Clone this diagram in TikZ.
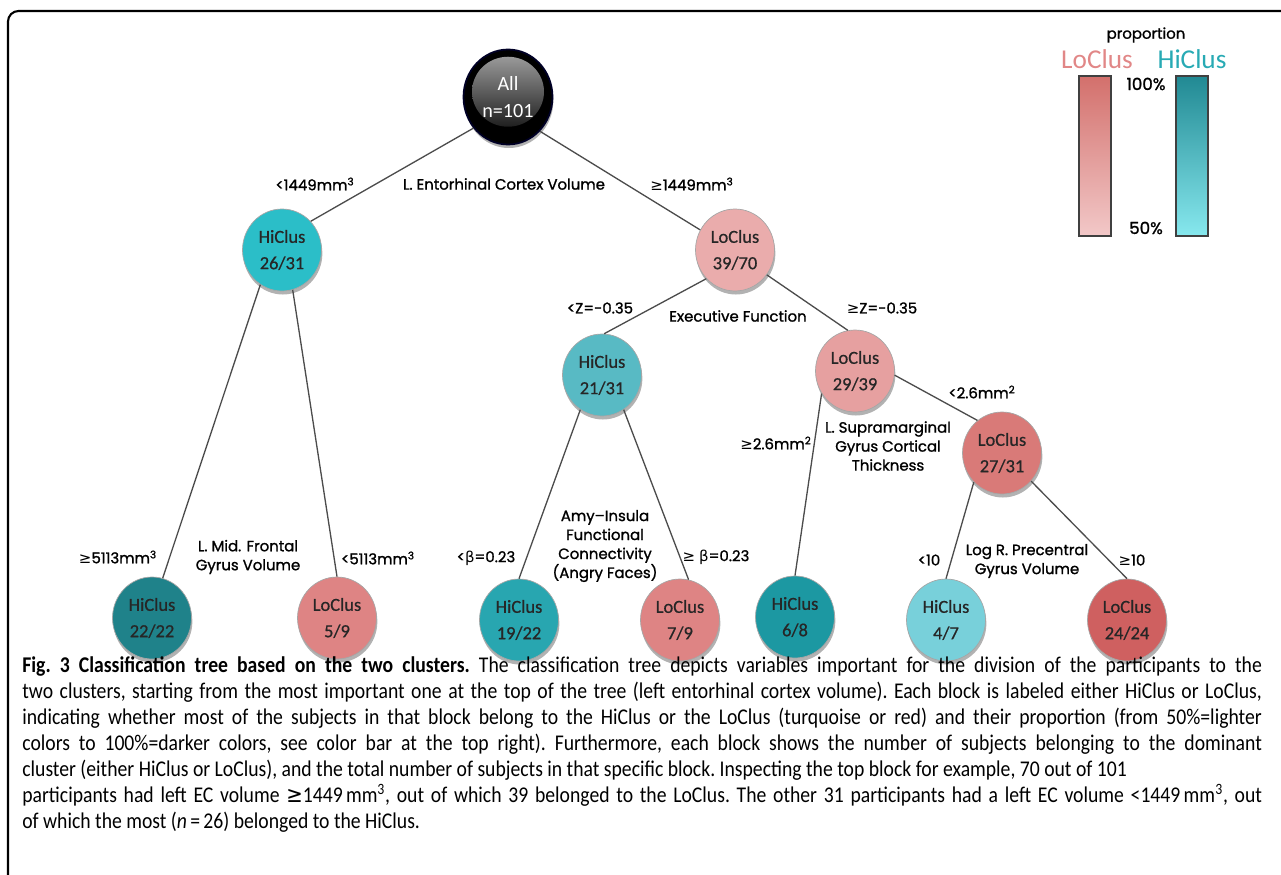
\documentclass[tikz,border=0pt]{standalone}
\usepackage{fontspec}
\usepackage{graphicx}
\setmainfont{Carlito}
\newfontfamily\gothic[FakeBold=1.2]{Poppins}
\newfontfamily\nodefont[FakeBold=0.6]{Carlito}
\newfontfamily\symf{DejaVu Sans}
\usetikzlibrary{shapes.geometric,shadows}

\definecolor{hiA}{RGB}{43,190,200}
\definecolor{loA}{RGB}{234,172,172}
\definecolor{hiB}{RGB}{88,186,196}
\definecolor{loB}{RGB}{230,160,160}
\definecolor{loC}{RGB}{217,122,120}
\definecolor{hiC}{RGB}{31,130,138}
\definecolor{loD}{RGB}{222,132,132}
\definecolor{hiD}{RGB}{40,166,176}
\definecolor{loE}{RGB}{222,132,132}
\definecolor{hiE}{RGB}{28,152,162}
\definecolor{hiF}{RGB}{120,208,218}
\definecolor{loF}{RGB}{207,96,96}
\definecolor{loLeg}{RGB}{225,135,135}
\definecolor{hiLeg}{RGB}{40,170,180}
\definecolor{barLoTop}{RGB}{211,112,108}
\definecolor{barLoBot}{RGB}{242,200,200}
\definecolor{barHiTop}{RGB}{33,137,147}
\definecolor{barHiBot}{RGB}{135,232,238}

\newcommand\gesign{{\symf ≥}}
\newcommand\betasign{{\symf β}}

\tikzset{
  clus/.style={ellipse, draw=black!35, line width=0.4pt, inner sep=0pt,
    minimum width=1.58cm, minimum height=1.64cm, align=center,
    font=\nodefont\fontsize{10.5}{15}\selectfont, text=black!85,
    drop shadow={shadow xshift=0.5pt, shadow yshift=-2pt, opacity=0.3, fill=black}},
  root/.style={ellipse, fill=black, draw=black!85!blue, line width=1pt, inner sep=0pt,
    minimum width=1.78cm, minimum height=1.9cm, align=center, text=white,
    font=\fontsize{11.5}{15.5}\selectfont,
    path picture={\shade[top color=gray!70, bottom color=black]
      ([yshift=3pt]path picture bounding box.center) ellipse [x radius=0.72cm, y radius=0.7cm];},
    drop shadow={shadow xshift=0.5pt, shadow yshift=-2pt, opacity=0.3, fill=black}},
  rule/.style={font=\gothic\fontsize{8.5}{10.8}\selectfont, align=center, inner sep=1pt},
  branch/.style={draw=black!70, line width=0.75pt},
}

\begin{document}
\begin{tikzpicture}[x=0.02cm, y=-0.02cm]
\useasboundingbox (0,0) rectangle (1281,875);
% frame
\draw[line width=1.2pt, rounded corners=6pt] (8,875) -- (8,11) -- (1281,11);

% tree
\node[root] (all) at (508,97) {All\\n=101};
\node[clus, fill=hiA] (hA) at (282,250) {HiClus\\26/31};
\node[clus, fill=loA] (lA) at (735,250) {LoClus\\39/70};
\node[clus, fill=hiB] (hB) at (602,375) {HiClus\\21/31};
\node[clus, fill=loB] (lB) at (855,371) {LoClus\\29/39};
\node[clus, fill=loC] (lC) at (1002,453) {LoClus\\27/31};
\node[clus, fill=hiC] (hC) at (152,618) {HiClus\\22/22};
\node[clus, fill=loD] (lD) at (337,618) {LoClus\\5/9};
\node[clus, fill=hiD] (hD) at (519,620) {HiClus\\19/22};
\node[clus, fill=loE] (lE) at (680,620) {LoClus\\7/9};
\node[clus, fill=hiE] (hE) at (795,617) {HiClus\\6/8};
\node[clus, fill=hiF] (hF) at (946,620) {HiClus\\4/7};
\node[clus, fill=loF] (lF) at (1127,620) {LoClus\\24/24};

\draw[branch] (all.222) -- (hA.45);
\draw[branch] (all.-47) -- (lA.150);
\draw[branch] (hA.238) -- (hC.75);
\draw[branch] (hA.285) -- (lD.90);
\draw[branch] (lA.225) -- (hB.87);
\draw[branch] (lA.-38) -- (lB.100);
\draw[branch] (hB.238) -- (hD.90);
\draw[branch] (hB.-58) -- (lE.78);
\draw[branch] (lB.214) -- (hE.90);
\draw[branch] (lB.-6) -- (lC.127);
\draw[branch] (lC.226) -- (hF.90);
\draw[branch] (lC.-44) -- (lF.90);

% split rules
\node[rule] (ecLo) at (315,184) {<1449mm\textsuperscript{3}};
\node[rule] (ec) at (504,184) {L. Entorhinal Cortex Volume};
\node[rule] (ecHi) at (692,184) {\gesign1449mm\textsuperscript{3}};
\node[rule] (efLo) at (600,308) {<Z=-0.35};
\node[rule] (ef) at (738,316) {Executive Function};
\node[rule] (efHi) at (882,308) {\gesign Z=-0.35};
\node[rule] (smLo) at (982,392) {<2.6mm\textsuperscript{2}};
\node[rule] (smHi) at (776,443) {\gesign2.6mm\textsuperscript{2}};
\node[rule] (sm) at (888,446) {L. Supramarginal\\Gyrus Cortical\\Thickness};
\node[rule] (mfHi) at (118,557) {\gesign5113mm\textsuperscript{3}};
\node[rule] (mf) at (248,557) {L. Mid. Frontal\\Gyrus Volume};
\node[rule] (mfLo) at (378,558) {<5113mm\textsuperscript{3}};
\node[rule] (aiLo) at (486,558) {<\betasign=0.23};
\node[rule] (ai) at (605,546) {Amy–Insula\\Functional\\Connectivity\\(Angry Faces)};
\node[rule] (aiHi) at (716,557) {\gesign{} \betasign=0.23};
\node[rule] (pcLo) at (929,560) {<10};
\node[rule] (pc) at (1027,561) {Log R. Precentral\\Gyrus Volume};
\node[rule] (pcHi) at (1132,560) {\gesign10};

% colour bars
\node[rule] (prop) at (1146,35) {proportion};
\node[font=\fontsize{15.5}{18}\selectfont, text=loLeg] (legLo) at (1097,59) {LoClus};
\node[font=\fontsize{15.5}{18}\selectfont, text=hiLeg] (legHi) at (1192,59) {HiClus};
\shadedraw[top color=barLoTop, bottom color=barLoBot, draw=black!75, line width=0.6pt] (1079,76) rectangle (1111,236);
\shadedraw[top color=barHiTop, bottom color=barHiBot, draw=black!75, line width=0.6pt] (1176,76) rectangle (1208,236);
\node[rule, font=\gothic\fontsize{9.5}{11}\selectfont] (full) at (1146,84) {100\%};
\node[rule, font=\gothic\fontsize{9.5}{11}\selectfont] (half) at (1146,228) {50\%};

% caption
\node[anchor=north west, inner sep=0pt, font=\fontsize{12.8}{14.8}\selectfont] (cap) at (22,656)
{\scalebox{0.875}[1]{\parbox[t]{28.34cm}{\frenchspacing
\textbf{Fig. 3 Classification tree based on the two clusters.} The classification tree depicts variables important for the division of the participants to the\linebreak
two clusters, starting from the most important one at the top of the tree (left entorhinal cortex volume). Each block is labeled either HiClus or LoClus,\linebreak
indicating whether most of the subjects in that block belong to the HiClus or the LoClus (turquoise or red) and their proportion (from 50\%=lighter\linebreak
colors to 100\%=darker colors, see color bar at the top right). Furthermore, each block shows the number of subjects belonging to the dominant\linebreak
cluster (either HiClus or LoClus), and the total number of subjects in that specific block. Inspecting the top block for example, 70 out of 101\newline
participants had left EC volume {\symf ≥}1449\,mm\textsuperscript{3}, out of which 39 belonged to the LoClus. The other 31 participants had a left EC volume <1449\,mm\textsuperscript{3}, out\linebreak
of which the most (\textit{n}\,=\,26) belonged to the HiClus.}}};
\end{tikzpicture}
\end{document}
